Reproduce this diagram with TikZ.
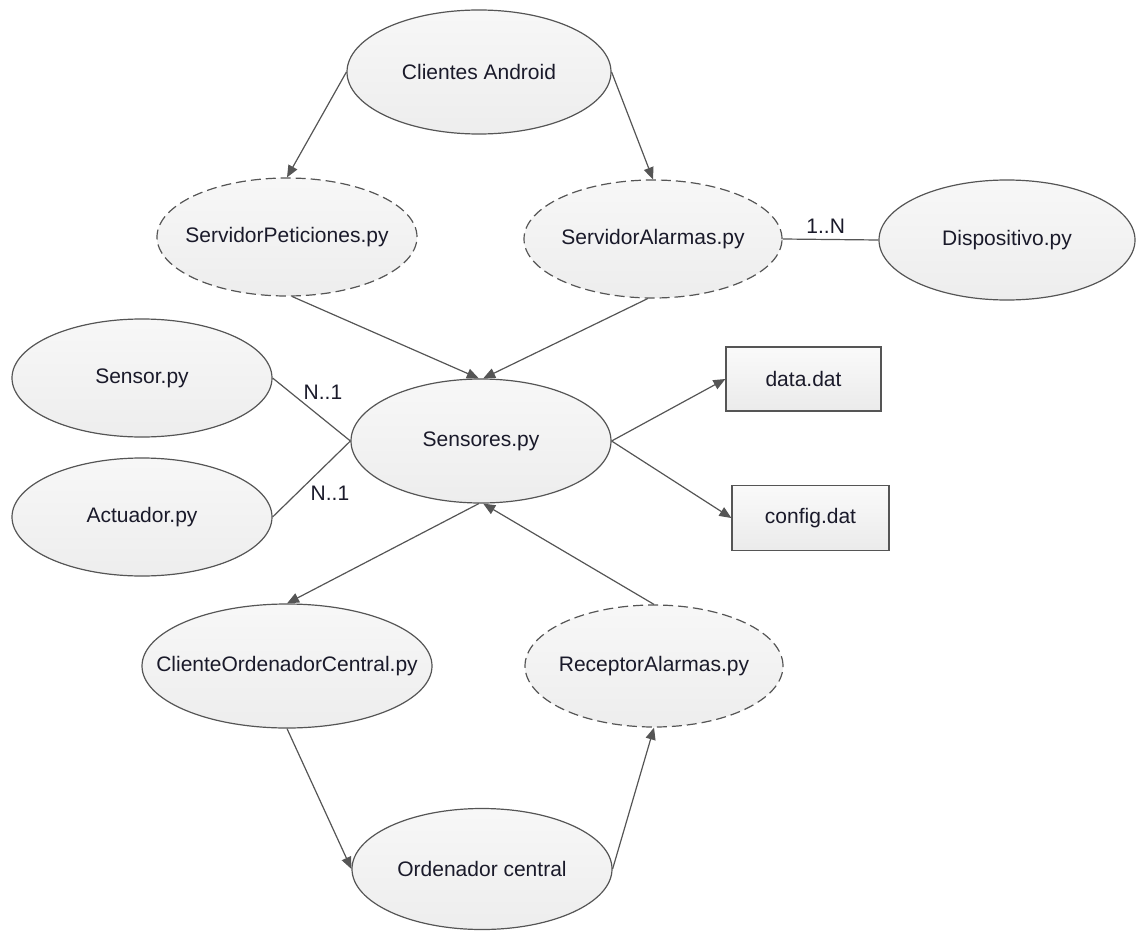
\documentclass[tikz,border=0pt]{standalone}
\usepackage{fontspec}
\setmainfont{Liberation Sans}
\usetikzlibrary{shapes.geometric,arrows.meta}
\definecolor{edgec}{HTML}{555555}
\definecolor{txtc}{HTML}{1A1A2A}
\newcommand{\zw}[1]{\makebox[0pt]{#1}}
\tikzset{
  ell/.style={ellipse, draw=edgec, line width=1.2pt, top color=white!97!black, bottom color=white!93!black,
    inner sep=0pt, minimum width=#1, minimum height=118pt, text=txtc, font=\fontsize{21}{25}\selectfont},
  ell/.default=260pt,
  dell/.style={ell=#1, dash pattern=on 10pt off 5pt},
  dell/.default=258pt,
  filebox/.style={rectangle, draw=edgec, line width=1.2pt, top color=white!98!black, bottom color=white!92!black,
    inner sep=0pt, text=txtc, font=\fontsize{21}{25}\selectfont},
  conn/.style={draw=edgec, line width=1.2pt},
  arr/.style={conn, -{Triangle[length=12pt,width=10pt]}},
  lab/.style={text=txtc, font=\fontsize{21}{25}\selectfont, inner sep=0pt}
}
\begin{document}
\begin{tikzpicture}[x=1pt,y=-1pt]
\useasboundingbox (0,0) rectangle (1137,931);
\node[ell=264pt, minimum height=124pt] (CA) at (479,72) {\zw{Clientes Android}};
\node[dell=260pt] (SP) at (287,237) {\zw{ServidorPeticiones.py}};
\node[dell=258pt] (SA) at (653,239) {\zw{ServidorAlarmas.py}};
\node[ell=256pt, minimum height=120pt] (DI) at (1007,240) {\zw{Dispositivo.py}};
\node[ell=260pt] (SE) at (142,378) {\zw{Sensor.py}};
\node[ell=260pt] (AC) at (142,517) {\zw{Actuador.py}};
\node[ell=260pt, minimum height=124pt] (SS) at (481,441) {\zw{Sensores.py}};
\node[filebox, minimum width=155pt, minimum height=64pt] (DD) at (803.5,379) {\zw{data.dat}};
\node[filebox, minimum width=157pt, minimum height=65pt] (CD) at (810.5,518) {\zw{config.dat}};
\node[ell=290pt, minimum height=124pt] (CO) at (287,666) {\zw{ClienteOrdenadorCentral.py}};
\node[dell=258pt, minimum height=122pt] (RA) at (654,666) {\zw{ReceptorAlarmas.py}};
\node[ell=260pt, minimum height=121pt] (OC) at (482,869) {\zw{Ordenador central}};

\draw[arr] (CA.west) -- (SP.north);
\draw[arr] (CA.east) -- (SA.north);
\draw[arr] (SP.-85) -- (SS.92);
\draw[arr] (SA.-95) -- (SS.88);
\draw[conn] (SA.east) -- node[lab, above=5pt, pos=0.45] {1..N} (DI.west);
\draw[conn] (SS.west) -- (SE.east);
\draw[conn] (SS.west) -- (AC.east);
\node[lab] (L1) at (323,392) {N..1};
\node[lab] (L2) at (330,493) {N..1};
\draw[arr] (SS.east) -- (DD.west);
\draw[arr] (SS.east) -- (CD.west);
\draw[arr] (SS.-92) -- (CO.north);
\draw[arr] (RA.north) -- (SS.-88);
\draw[arr] (CO.south) -- (OC.west);
\draw[arr] (OC.east) -- (RA.south);
\end{tikzpicture}
\end{document}
